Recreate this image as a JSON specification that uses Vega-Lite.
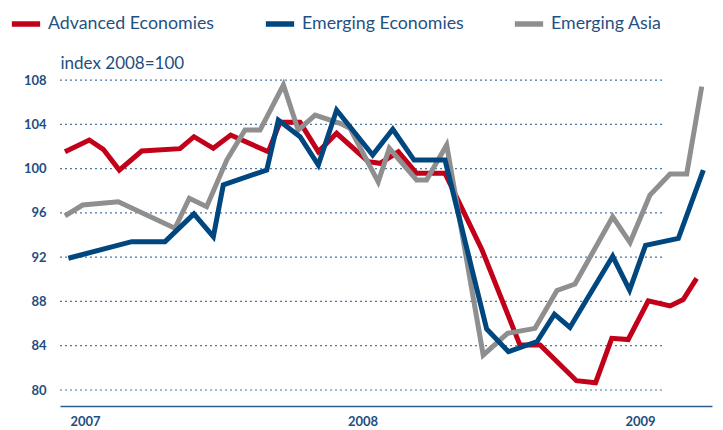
{
  "$schema": "https://vega.github.io/schema/vega-lite/v6.json",
  "width": 652,
  "height": 348,
  "autosize": {"type": "none"},
  "padding": {"left": 60, "top": 58, "right": 11, "bottom": 24},
  "background": "white",
  "config": {
    "view": {"stroke": null},
    "font": "Lato"
  },
  "layer": [
    {
      "data": {"values": [{"g": 80}, {"g": 84}, {"g": 88}, {"g": 92}, {"g": 96}, {"g": 100}, {"g": 104}, {"g": 108}]},
      "mark": {"type": "rule", "strokeDash": [2, 3], "color": "#4a77a4", "strokeWidth": 1.2},
      "encoding": {
        "y": {"field": "g", "type": "quantitative", "scale": {"domain": [78.555, 109.99], "nice": false, "zero": false}},
        "x": {"datum": -1.081, "type": "quantitative"},
        "x2": {"datum": 25.08}
      }
    },
    {
      "data": {
        "values": [
          {"s": "Advanced Economies", "m": -0.865, "v": 101.52},
          {"s": "Advanced Economies", "m": 0.186, "v": 102.58},
          {"s": "Advanced Economies", "m": 0.791, "v": 101.74},
          {"s": "Advanced Economies", "m": 1.483, "v": 99.87},
          {"s": "Advanced Economies", "m": 2.452, "v": 101.59},
          {"s": "Advanced Economies", "m": 4.108, "v": 101.8},
          {"s": "Advanced Economies", "m": 4.714, "v": 102.88},
          {"s": "Advanced Economies", "m": 5.548, "v": 101.83},
          {"s": "Advanced Economies", "m": 6.3, "v": 103.03},
          {"s": "Advanced Economies", "m": 7.93, "v": 101.52},
          {"s": "Advanced Economies", "m": 8.43, "v": 104.18},
          {"s": "Advanced Economies", "m": 9.3, "v": 104.18},
          {"s": "Advanced Economies", "m": 10.09, "v": 101.52},
          {"s": "Advanced Economies", "m": 10.88, "v": 103.19},
          {"s": "Advanced Economies", "m": 12.25, "v": 100.62},
          {"s": "Advanced Economies", "m": 12.76, "v": 100.48},
          {"s": "Advanced Economies", "m": 13.55, "v": 101.52},
          {"s": "Advanced Economies", "m": 14.34, "v": 99.57},
          {"s": "Advanced Economies", "m": 15.57, "v": 99.57},
          {"s": "Advanced Economies", "m": 17.17, "v": 92.65},
          {"s": "Advanced Economies", "m": 18.81, "v": 84.06},
          {"s": "Advanced Economies", "m": 19.68, "v": 84.06},
          {"s": "Advanced Economies", "m": 21.25, "v": 80.84},
          {"s": "Advanced Economies", "m": 22.08, "v": 80.66},
          {"s": "Advanced Economies", "m": 22.78, "v": 84.67},
          {"s": "Advanced Economies", "m": 23.49, "v": 84.56},
          {"s": "Advanced Economies", "m": 24.36, "v": 88.06},
          {"s": "Advanced Economies", "m": 25.3, "v": 87.59},
          {"s": "Advanced Economies", "m": 25.87, "v": 88.17},
          {"s": "Advanced Economies", "m": 26.45, "v": 90.09},
          {"s": "Emerging Asia", "m": -0.865, "v": 95.72},
          {"s": "Emerging Asia", "m": -0.1, "v": 96.71},
          {"s": "Emerging Asia", "m": 1.44, "v": 97.01},
          {"s": "Emerging Asia", "m": 3.89, "v": 94.61},
          {"s": "Emerging Asia", "m": 4.51, "v": 97.32},
          {"s": "Emerging Asia", "m": 5.26, "v": 96.56},
          {"s": "Emerging Asia", "m": 6.13, "v": 100.77},
          {"s": "Emerging Asia", "m": 6.92, "v": 103.48},
          {"s": "Emerging Asia", "m": 7.57, "v": 103.48},
          {"s": "Emerging Asia", "m": 8.58, "v": 107.55},
          {"s": "Emerging Asia", "m": 9.22, "v": 103.48},
          {"s": "Emerging Asia", "m": 9.95, "v": 104.84},
          {"s": "Emerging Asia", "m": 11.03, "v": 104.09},
          {"s": "Emerging Asia", "m": 11.46, "v": 103.64},
          {"s": "Emerging Asia", "m": 12.68, "v": 98.8},
          {"s": "Emerging Asia", "m": 13.16, "v": 101.83},
          {"s": "Emerging Asia", "m": 14.34, "v": 98.97},
          {"s": "Emerging Asia", "m": 14.77, "v": 98.97},
          {"s": "Emerging Asia", "m": 15.64, "v": 102.13},
          {"s": "Emerging Asia", "m": 17.22, "v": 83.16},
          {"s": "Emerging Asia", "m": 18.27, "v": 85.12},
          {"s": "Emerging Asia", "m": 19.46, "v": 85.57},
          {"s": "Emerging Asia", "m": 20.41, "v": 88.99},
          {"s": "Emerging Asia", "m": 21.19, "v": 89.57},
          {"s": "Emerging Asia", "m": 22.82, "v": 95.65},
          {"s": "Emerging Asia", "m": 23.57, "v": 93.32},
          {"s": "Emerging Asia", "m": 24.43, "v": 97.61},
          {"s": "Emerging Asia", "m": 25.3, "v": 99.51},
          {"s": "Emerging Asia", "m": 26.02, "v": 99.51},
          {"s": "Emerging Asia", "m": 26.67, "v": 107.4},
          {"s": "Emerging Economies", "m": -0.72, "v": 91.9},
          {"s": "Emerging Economies", "m": 2.02, "v": 93.4},
          {"s": "Emerging Economies", "m": 3.46, "v": 93.4},
          {"s": "Emerging Economies", "m": 4.71, "v": 95.9},
          {"s": "Emerging Economies", "m": 5.55, "v": 93.85},
          {"s": "Emerging Economies", "m": 5.98, "v": 98.52},
          {"s": "Emerging Economies", "m": 7.86, "v": 99.87},
          {"s": "Emerging Economies", "m": 8.36, "v": 104.39},
          {"s": "Emerging Economies", "m": 9.3, "v": 102.88},
          {"s": "Emerging Economies", "m": 10.09, "v": 100.32},
          {"s": "Emerging Economies", "m": 10.88, "v": 105.29},
          {"s": "Emerging Economies", "m": 12.44, "v": 101.23},
          {"s": "Emerging Economies", "m": 13.31, "v": 103.55},
          {"s": "Emerging Economies", "m": 14.23, "v": 100.77},
          {"s": "Emerging Economies", "m": 15.57, "v": 100.77},
          {"s": "Emerging Economies", "m": 17.37, "v": 85.51},
          {"s": "Emerging Economies", "m": 18.31, "v": 83.46},
          {"s": "Emerging Economies", "m": 19.55, "v": 84.38},
          {"s": "Emerging Economies", "m": 20.3, "v": 86.85},
          {"s": "Emerging Economies", "m": 20.97, "v": 85.65},
          {"s": "Emerging Economies", "m": 22.82, "v": 92.08},
          {"s": "Emerging Economies", "m": 23.55, "v": 89.03},
          {"s": "Emerging Economies", "m": 24.24, "v": 93.07},
          {"s": "Emerging Economies", "m": 25.66, "v": 93.7},
          {"s": "Emerging Economies", "m": 26.74, "v": 99.87}
        ]
      },
      "mark": {"type": "line", "strokeWidth": 5, "strokeJoin": "miter", "strokeCap": "butt"},
      "encoding": {
        "x": {
          "field": "m",
          "type": "quantitative",
          "scale": {"domain": [-1.081, 27.114], "nice": false, "zero": false},
          "axis": {
            "values": [0, 12, 24],
            "labelExpr": "toString(2007 + datum.value / 12)",
            "title": null,
            "grid": false,
            "ticks": false,
            "domainColor": "#2f5f8f",
            "domainWidth": 1.5,
            "labelFont": "Lato",
            "labelFontWeight": "bold",
            "labelFontSize": 13,
            "labelColor": "#1f4e80",
            "labelPadding": 9,
            "labelBaseline": "top"
          }
        },
        "y": {
          "field": "v",
          "type": "quantitative",
          "axis": {
            "values": [80, 84, 88, 92, 96, 100, 104, 108],
            "title": "index 2008=100",
            "titleAngle": 0,
            "titleX": 0,
            "titleY": 5,
            "titleAlign": "left",
            "titleBaseline": "middle",
            "titleFont": "Lato",
            "titleFontWeight": "normal",
            "titleFontSize": 17,
            "titleColor": "#1f4e80",
            "grid": false,
            "ticks": false,
            "domain": false,
            "labelFont": "Lato",
            "labelFontWeight": "bold",
            "labelFontSize": 13,
            "labelColor": "#1f4e80",
            "labelPadding": 14
          }
        },
        "color": {
          "field": "s",
          "type": "nominal",
          "scale": {
            "domain": ["Advanced Economies", "Emerging Economies", "Emerging Asia"],
            "range": ["#c20019", "#00467f", "#8f8f8f"]
          },
          "legend": {
            "orient": "none",
            "legendX": -51,
            "legendY": -51,
            "direction": "horizontal",
            "title": null,
            "symbolType": "stroke",
            "symbolStrokeWidth": 5.5,
            "symbolSize": 800,
            "labelFont": "Lato",
            "labelFontSize": 17.8,
            "labelLimit": 400,
            "labelColor": "#1f5183",
            "labelOffset": 5,
            "columnPadding": 39
          }
        }
      }
    }
  ]
}
